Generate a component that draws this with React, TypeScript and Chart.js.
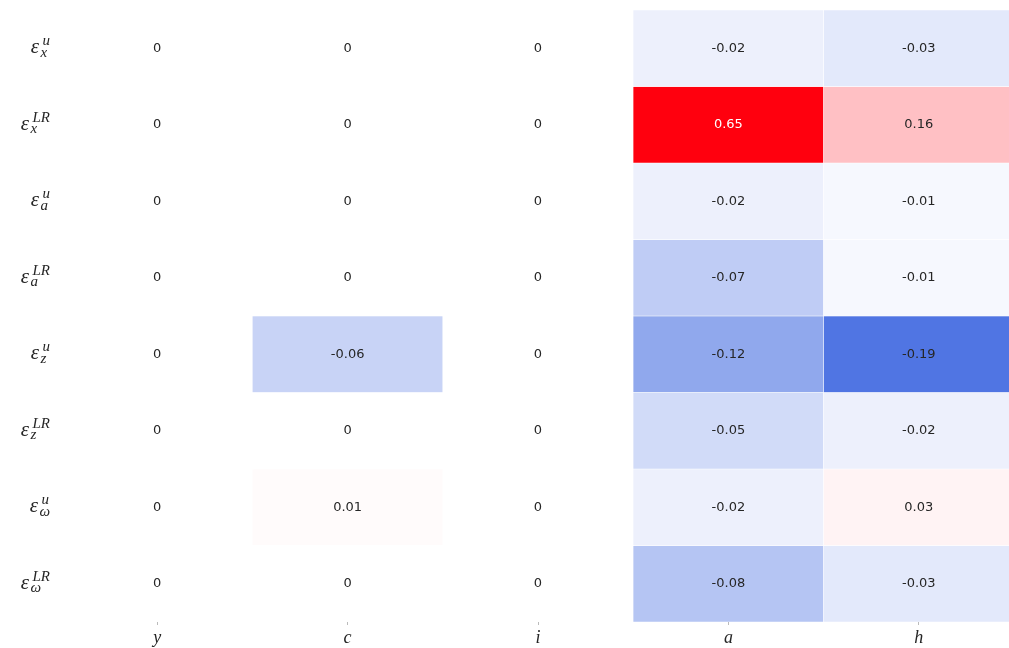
import React, { useEffect, useRef } from "react";
import { Chart, registerables } from "chart.js";

Chart.register(...registerables);

const columns = ["y", "c", "i", "a", "h"];
const rowBase = "ε";
const rowSubs = ["x", "x", "a", "a", "z", "z", "ω", "ω"];
const rowSups = ["u", "LR", "u", "LR", "u", "LR", "u", "LR"];

const colY = [0, 0, 0, 0, 0, 0, 0, 0];
const colC = [0, 0, 0, 0, -0.06, 0, 0.01, 0];
const colI = [0, 0, 0, 0, 0, 0, 0, 0];
const colA = [-0.02, 0.65, -0.02, -0.07, -0.12, -0.05, -0.02, -0.08];
const colH = [-0.03, 0.16, -0.01, -0.01, -0.19, -0.02, 0.03, -0.03];

const valueColumns = [colY, colC, colI, colA, colH];
const vMin = -0.19;
const vMax = 0.65;
const negEnd = [80, 117, 227];
const posEnd = [255, 0, 14];

function colorFor(v: number): string {
  let end = posEnd;
  let t = 0;
  if (v < 0) {
    end = negEnd;
    t = Math.min(1, v / vMin);
  } else {
    t = Math.min(1, v / vMax);
  }
  const c = end.map((e) => Math.round(255 + (e - 255) * t));
  return `rgb(${c[0]},${c[1]},${c[2]})`;
}

function fmt(v: number): string {
  return v === 0 ? "0" : v.toFixed(2);
}

const annotatePlugin = {
  id: "annotate",
  afterDatasetsDraw(chart: any) {
    const ctx = chart.ctx;
    const xs = chart.scales.x;
    const ys = chart.scales.y;
    ctx.save();
    ctx.font = '13px "DejaVu Sans"';
    ctx.textAlign = "center";
    ctx.textBaseline = "middle";
    valueColumns.forEach((col, c) => {
      col.forEach((v, r) => {
        const x = xs.getPixelForValue(c);
        const y = ys.getPixelForValue(r + 0.5);
        ctx.fillStyle = v >= 0.5 ? "#ffffff" : "#262626";
        ctx.fillText(fmt(v), x, y);
      });
    });
    ctx.restore();
  },
};

const rowLabelPlugin = {
  id: "rowLabels",
  afterDraw(chart: any) {
    const ctx = chart.ctx;
    const ys = chart.scales.y;
    const rightEdge = 50;
    const baseFont = 'italic 21px "Liberation Serif"';
    const scriptFont = 'italic 15px "Liberation Serif"';
    ctx.save();
    ctx.fillStyle = "#262626";
    ctx.textAlign = "left";
    ctx.textBaseline = "alphabetic";
    rowSubs.forEach((sub, r) => {
      const sup = rowSups[r];
      const cy = ys.getPixelForValue(r + 0.5);
      ctx.font = baseFont;
      const epsW = ctx.measureText(rowBase).width;
      ctx.font = scriptFont;
      const subW = ctx.measureText(sub).width;
      const supW = ctx.measureText(sup).width;
      const scriptW = Math.max(subW, supW + 2);
      const x0 = rightEdge - (epsW + 1.5 + scriptW);
      ctx.font = baseFont;
      ctx.fillText(rowBase, x0, cy + 5);
      ctx.font = scriptFont;
      ctx.fillText(sub, x0 + epsW + 1.5, cy + 8.5);
      ctx.fillText(sup, x0 + epsW + 3.5, cy - 3);
    });
    ctx.restore();
  },
};

export default function App() {
  const ref = useRef<HTMLCanvasElement | null>(null);

  useEffect(() => {
    if (!ref.current) return;
    const datasets = rowSubs.map((_, r) => ({
      label: `row${r}`,
      data: columns.map(() => [r, r + 1]),
      backgroundColor: valueColumns.map((col) => colorFor(col[r])),
      borderColor: "#ffffff",
      borderWidth: 0.5,
      borderSkipped: false,
      barPercentage: 1,
      categoryPercentage: 1,
      grouped: false,
    }));
    const chart = new Chart(ref.current, {
      type: "bar",
      data: { labels: columns, datasets: datasets as any },
      options: {
        animation: false,
        responsive: true,
        maintainAspectRatio: false,
        layout: { padding: { left: 62, top: 10, right: 0, bottom: 0 } },
        plugins: {
          legend: { display: false },
          tooltip: { enabled: false },
        },
        scales: {
          x: {
            type: "category",
            offset: true,
            grid: {
              offset: false,
              drawOnChartArea: false,
              drawTicks: true,
              tickLength: 3,
              color: "#bbbbbb",
            },
            border: { display: false },
            ticks: {
              padding: 2,
              color: "#262626",
              font: { family: '"Liberation Serif"', size: 18, style: "italic" },
            },
            afterFit(scale: any) {
              scale.height = 26;
            },
          },
          y: {
            type: "linear",
            display: false,
            min: 0,
            max: 8,
            reverse: true,
          },
        },
      },
      plugins: [annotatePlugin, rowLabelPlugin],
    });
    return () => chart.destroy();
  }, []);

  return (
    <div
      style={{
        position: "fixed",
        left: 0,
        top: 0,
        width: 1014,
        height: 648,
        background: "#ffffff",
      }}
    >
      <canvas ref={ref} />
    </div>
  );
}
